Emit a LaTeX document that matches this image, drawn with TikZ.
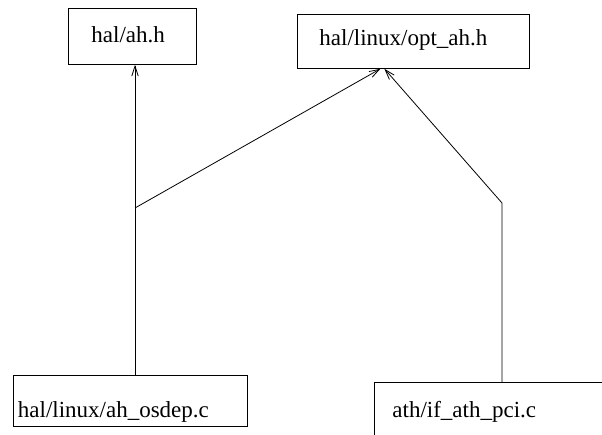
\documentclass[tikz,border=0pt]{standalone}
\usepackage{fontspec}
\setmainfont{Liberation Serif}
\usetikzlibrary{arrows.meta}
\tikzset{
  filebox/.style={draw, line width=0.8pt, anchor=north west, inner ysep=0pt,
    align=left, font=\fontsize{23}{27}\selectfont},
  dep/.style={line width=0.8pt, -{Straight Barb[length=10pt,width=6.5pt]}},
  wire/.style={line width=0.8pt}
}
\begin{document}
\begin{tikzpicture}[x=1pt,y=-1pt]
  \useasboundingbox (0,0) rectangle (602,435);
  \clip (0,0) rectangle (602,435);
  % header files
  \node[filebox, inner xsep=23pt, text width=82pt, text height=34pt, text depth=22pt]
    (ah) at (68,8) {hal/ah.h};
  \node[filebox, inner xsep=22pt, text width=188pt, text height=31.5pt, text depth=22.5pt]
    (opt) at (297,14) {hal/linux/opt\_ah.h};
  % source files
  \node[filebox, inner xsep=5pt, text width=224pt, text height=42pt, text depth=9pt]
    (osdep) at (12.5,375) {hal/linux/ah\_osdep.c};
  \node[filebox, inner xsep=18pt, text width=230pt, text height=35pt, text depth=40pt]
    (ath) at (374,382) {ath/if\_ath\_pci.c};
  % junctions
  \coordinate (j1) at (135,208);
  \coordinate (j2) at (502,203);
  % dependencies
  \draw[dep] (j1 |- osdep.north) -- (j1 |- ah.south);
  \draw[dep] (j1) -- ([xshift=-33pt]opt.south);
  \draw[dep] (j2 |- ath.north) -- (j2) -- ([xshift=-29pt]opt.south);
\end{tikzpicture}
\end{document}
